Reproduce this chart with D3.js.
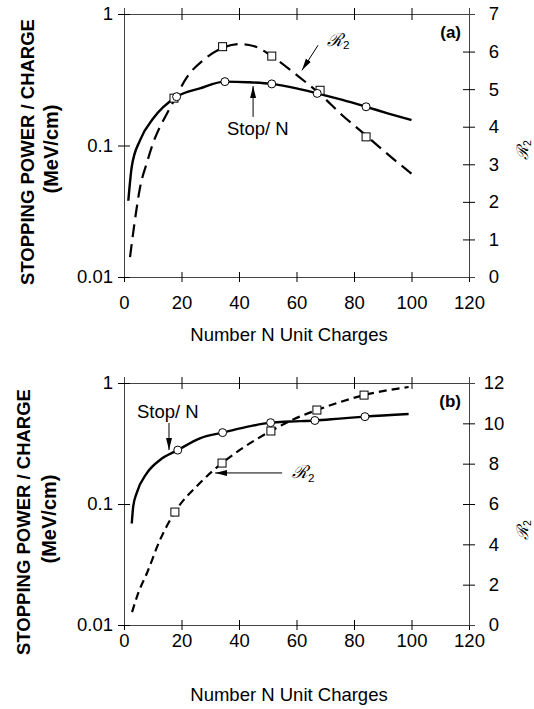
<!DOCTYPE html>
<html>
<head>
<meta charset="utf-8">
<script src="https://cdn.jsdelivr.net/npm/d3@7"></script>
<style>
  body { margin: 0; background: #fff; }
  svg { display: block; font-family: "Liberation Sans", Arial, Helvetica, sans-serif; }
</style>
</head>
<body>
<div id="chart"></div>
<script>
// axis ticks
const xTicks = [0, 20, 40, 60, 80, 100, 120];
const stopTicks = [1, 0.1, 0.01];
const r2TicksA = [0, 1, 2, 3, 4, 5, 6, 7];
const r2TicksB = [0, 2, 4, 6, 8, 10, 12];

// panel (a): stopping power per charge (solid) and R2 (dashed)
const stopCurveA_N = [1.5, 2.7, 5.6, 10.2, 18.3, 26.4, 35.1, 43, 51.4, 60, 67.2, 76, 84.2, 92, 100];
const stopCurveA_v = [0.038, 0.069, 0.11, 0.161, 0.235, 0.272, 0.306, 0.303, 0.294, 0.272, 0.249, 0.222, 0.197, 0.175, 0.156];
const stopPtsA_N = [18.3, 35.1, 51.4, 67.2, 84.2];
const stopPtsA_v = [0.235, 0.306, 0.294, 0.249, 0.197];
const r2CurveA_N = [2.1, 3.5, 5.6, 8, 10.1, 15, 17.4, 21.9, 28, 34.3, 40.3, 45, 51, 60, 68, 76, 84, 92, 100];
const r2CurveA_v = [0.53, 1.35, 2.39, 3.05, 3.56, 4.36, 4.7, 5.32, 5.8, 6.1, 6.2, 6.15, 5.9, 5.38, 4.88, 4.3, 3.78, 3.25, 2.75];
const r2PtsA_N = [17.4, 34.3, 51.4, 68.2, 84.2];
const r2PtsA_v = [4.76, 6.13, 5.88, 4.97, 3.73];

// panel (b)
const stopCurveB_N = [2.7, 3.2, 4.4, 7.9, 12.5, 18.7, 26.4, 34.3, 42, 51, 58, 66.4, 75, 83.8, 99];
const stopCurveB_v = [0.069, 0.095, 0.123, 0.179, 0.231, 0.279, 0.349, 0.389, 0.43, 0.47, 0.48, 0.49, 0.508, 0.527, 0.554];
const stopPtsB_N = [18.7, 34.3, 51, 66.4, 83.8];
const stopPtsB_v = [0.279, 0.389, 0.47, 0.49, 0.527];
const r2CurveB_N = [2.8, 5, 8, 12.5, 17.7, 26.4, 34.1, 40.3, 51.1, 59, 67.1, 75, 83.5, 99];
const r2CurveB_v = [0.64, 1.6, 2.58, 4.21, 5.6, 7.04, 8.03, 8.68, 9.62, 10.2, 10.66, 11.05, 11.4, 11.8];
const r2PtsB_N = [17.7, 34.1, 51.1, 67.1, 83.5];
const r2PtsB_v = [5.6, 8.03, 9.62, 10.66, 11.4];

const zip = (a, b) => a.map((d, i) => [d, b[i]]);

const W = 534, H = 709;
const LEFT = 124, RIGHT = 469;

const panels = [
  {
    top: 14, bottom: 277, rMax: 7, rTicks: r2TicksA, tag: '(a)', dash: '13 7',
    tickLabelY: 32, titleY: 335, yTitleX: 27, unitX: 51, yTitleCY: 152, rTitleCY: 150,
    stopCurve: zip(stopCurveA_N, stopCurveA_v), stopPts: zip(stopPtsA_N, stopPtsA_v),
    r2Curve: zip(r2CurveA_N, r2CurveA_v), r2Pts: zip(r2PtsA_N, r2PtsA_v),
    stopNote: { text: [35.8, 0.136], from: [44.9, 0.165], to: [44.9, 0.283] },
    r2Note: { text: [70.6, 6.3], from: [67.5, 6.17], to: [61.9, 5.5] }
  },
  {
    top: 383, bottom: 625, rMax: 12, rTicks: r2TicksB, tag: '(b)', dash: '8 5',
    tickLabelY: 22, titleY: 695, yTitleX: 23, unitX: 49, yTitleCY: 522, rTitleCY: 530,
    stopCurve: zip(stopCurveB_N, stopCurveB_v), stopPts: zip(stopPtsB_N, stopPtsB_v),
    r2Curve: zip(r2CurveB_N, r2CurveB_v), r2Pts: zip(r2PtsB_N, r2PtsB_v),
    stopNote: { text: [4.5, 0.587], from: [15.65, 0.467], to: [15.65, 0.279] },
    r2Note: { text: [58.4, 7.54], from: [55, 7.54], to: [31.7, 7.54] }
  }
];

const svg = d3.select('#chart').append('svg')
  .attr('width', W)
  .attr('height', H);

svg.append('defs').append('marker')
  .attr('id', 'arrow')
  .attr('viewBox', '0 0 12 6')
  .attr('refX', 12)
  .attr('refY', 3)
  .attr('markerWidth', 12)
  .attr('markerHeight', 6)
  .attr('markerUnits', 'userSpaceOnUse')
  .attr('orient', 'auto')
  .append('path')
  .attr('d', 'M0,0 L12,3 L0,6 Z')
  .attr('fill', '#000');

function r2Title(sel) {
  sel.append('tspan').text('ℛ').style('font-family', '"DejaVu Serif", serif').style('font-style', 'italic');
  sel.append('tspan').text('2').attr('font-size', '0.65em').attr('dy', '0.3em');
}

function frame(g) {
  g.selectAll('.tick line').attr('stroke', '#000');
  g.select('.domain').attr('stroke', '#444');
  return g;
}

function drawPanel(p) {
  const x = d3.scaleLinear().domain([0, 120]).range([LEFT, RIGHT]);
  const y = d3.scaleLog().domain([0.01, 1]).range([p.bottom, p.top]);
  const yR = d3.scaleLinear().domain([0, p.rMax]).range([p.bottom, p.top]);
  const g = svg.append('g');

  // bottom axis
  const bx = g.append('g')
    .attr('transform', `translate(0,${p.bottom})`)
    .call(d3.axisBottom(x).tickValues(xTicks).tickSizeOuter(0).tickSize(5));
  bx.selectAll('.tick line').attr('y1', -5);
  bx.selectAll('.tick text').attr('y', p.tickLabelY - 13).attr('dy', '0.71em')
    .attr('font-size', 18.5).attr('font-family', null);
  frame(bx);

  // top axis
  const tx = g.append('g')
    .attr('transform', `translate(0,${p.top})`)
    .call(d3.axisTop(x).tickValues(xTicks.slice(1, -1)).tickSizeOuter(0).tickSize(6).tickFormat(''));
  tx.selectAll('.tick line').attr('y1', 6);
  frame(tx);

  // left log axis
  const lx = g.append('g')
    .attr('transform', `translate(${LEFT},0)`)
    .call(d3.axisLeft(y).tickValues(stopTicks).tickSizeOuter(0).tickSize(6).tickPadding(5)
      .tickFormat(d => String(d)));
  lx.selectAll('.tick line').attr('x1', 6);
  lx.selectAll('.tick text').attr('font-size', 18.5).attr('font-family', null);
  frame(lx);

  // right R2 axis
  const rx = g.append('g')
    .attr('transform', `translate(${RIGHT},0)`)
    .call(d3.axisRight(yR).tickValues(p.rTicks).tickSizeOuter(0).tickSize(6)
      .tickFormat(d => String(d)));
  rx.selectAll('.tick line').attr('x1', -6);
  rx.selectAll('.tick text').attr('x', 25).attr('text-anchor', 'middle')
    .attr('font-size', 18.5).attr('font-family', null);
  frame(rx);
  rx.selectAll('.tick').filter(d => d === 0 || d === p.rMax).select('line').remove();

  // axis titles
  g.append('text')
    .attr('x', 289).attr('y', p.titleY).attr('dy', '0.35em')
    .attr('text-anchor', 'middle').attr('font-size', 18.5)
    .text('Number N Unit Charges');

  g.append('text')
    .attr('transform', `translate(${p.yTitleX},${p.yTitleCY}) rotate(-90)`)
    .attr('dy', '0.36em').attr('text-anchor', 'middle')
    .attr('font-size', 18.5).attr('font-weight', 'bold')
    .text('STOPPING POWER / CHARGE');
  g.append('text')
    .attr('transform', `translate(${p.unitX},${p.yTitleCY - 3}) rotate(-90)`)
    .attr('dy', '0.36em').attr('text-anchor', 'middle')
    .attr('font-size', 20).attr('font-weight', 'bold')
    .text('(MeV/cm)');

  g.append('text')
    .attr('transform', `translate(522,${p.rTitleCY}) rotate(-90)`)
    .attr('dy', '0.36em').attr('text-anchor', 'middle')
    .attr('font-size', 16)
    .call(r2Title);

  g.append('text')
    .attr('x', 461).attr('y', p.top + 18).attr('dy', '0.36em')
    .attr('text-anchor', 'end').attr('font-size', 17).attr('font-weight', 'bold')
    .text(p.tag);

  // curves
  const stopLine = d3.line().x(d => x(d[0])).y(d => y(d[1])).curve(d3.curveMonotoneX);
  const r2Line = d3.line().x(d => x(d[0])).y(d => yR(d[1])).curve(d3.curveMonotoneX);

  g.append('path')
    .datum(p.r2Curve)
    .attr('d', r2Line)
    .attr('fill', 'none')
    .attr('stroke', '#000')
    .attr('stroke-width', 2.2)
    .attr('stroke-dasharray', p.dash);

  g.append('path')
    .datum(p.stopCurve)
    .attr('d', stopLine)
    .attr('fill', 'none')
    .attr('stroke', '#000')
    .attr('stroke-width', 2.4);

  g.selectAll('.sq')
    .data(p.r2Pts)
    .join('rect')
    .attr('class', 'sq')
    .attr('x', d => x(d[0]) - 4)
    .attr('y', d => yR(d[1]) - 4)
    .attr('width', 8)
    .attr('height', 8)
    .attr('fill', '#fff')
    .attr('stroke', '#000')
    .attr('stroke-width', 1);

  g.selectAll('.ci')
    .data(p.stopPts)
    .join('circle')
    .attr('class', 'ci')
    .attr('cx', d => x(d[0]))
    .attr('cy', d => y(d[1]))
    .attr('r', 4)
    .attr('fill', '#fff')
    .attr('stroke', '#000')
    .attr('stroke-width', 1);

  // annotations
  const sn = p.stopNote;
  g.append('text')
    .attr('x', x(sn.text[0])).attr('y', y(sn.text[1])).attr('dy', '0.36em')
    .attr('font-size', 18.5)
    .text('Stop/ N');
  g.append('line')
    .attr('x1', x(sn.from[0])).attr('y1', y(sn.from[1]))
    .attr('x2', x(sn.to[0])).attr('y2', y(sn.to[1]))
    .attr('stroke', '#000').attr('stroke-width', 1)
    .attr('marker-end', 'url(#arrow)');

  const rn = p.r2Note;
  g.append('text')
    .attr('x', x(rn.text[0])).attr('y', yR(rn.text[1])).attr('dy', '0.3em')
    .attr('font-size', 18)
    .call(r2Title);
  g.append('line')
    .attr('x1', x(rn.from[0])).attr('y1', yR(rn.from[1]))
    .attr('x2', x(rn.to[0])).attr('y2', yR(rn.to[1]))
    .attr('stroke', '#000').attr('stroke-width', 1)
    .attr('marker-end', 'url(#arrow)');
}

panels.forEach(drawPanel);
</script>
</body>
</html>
